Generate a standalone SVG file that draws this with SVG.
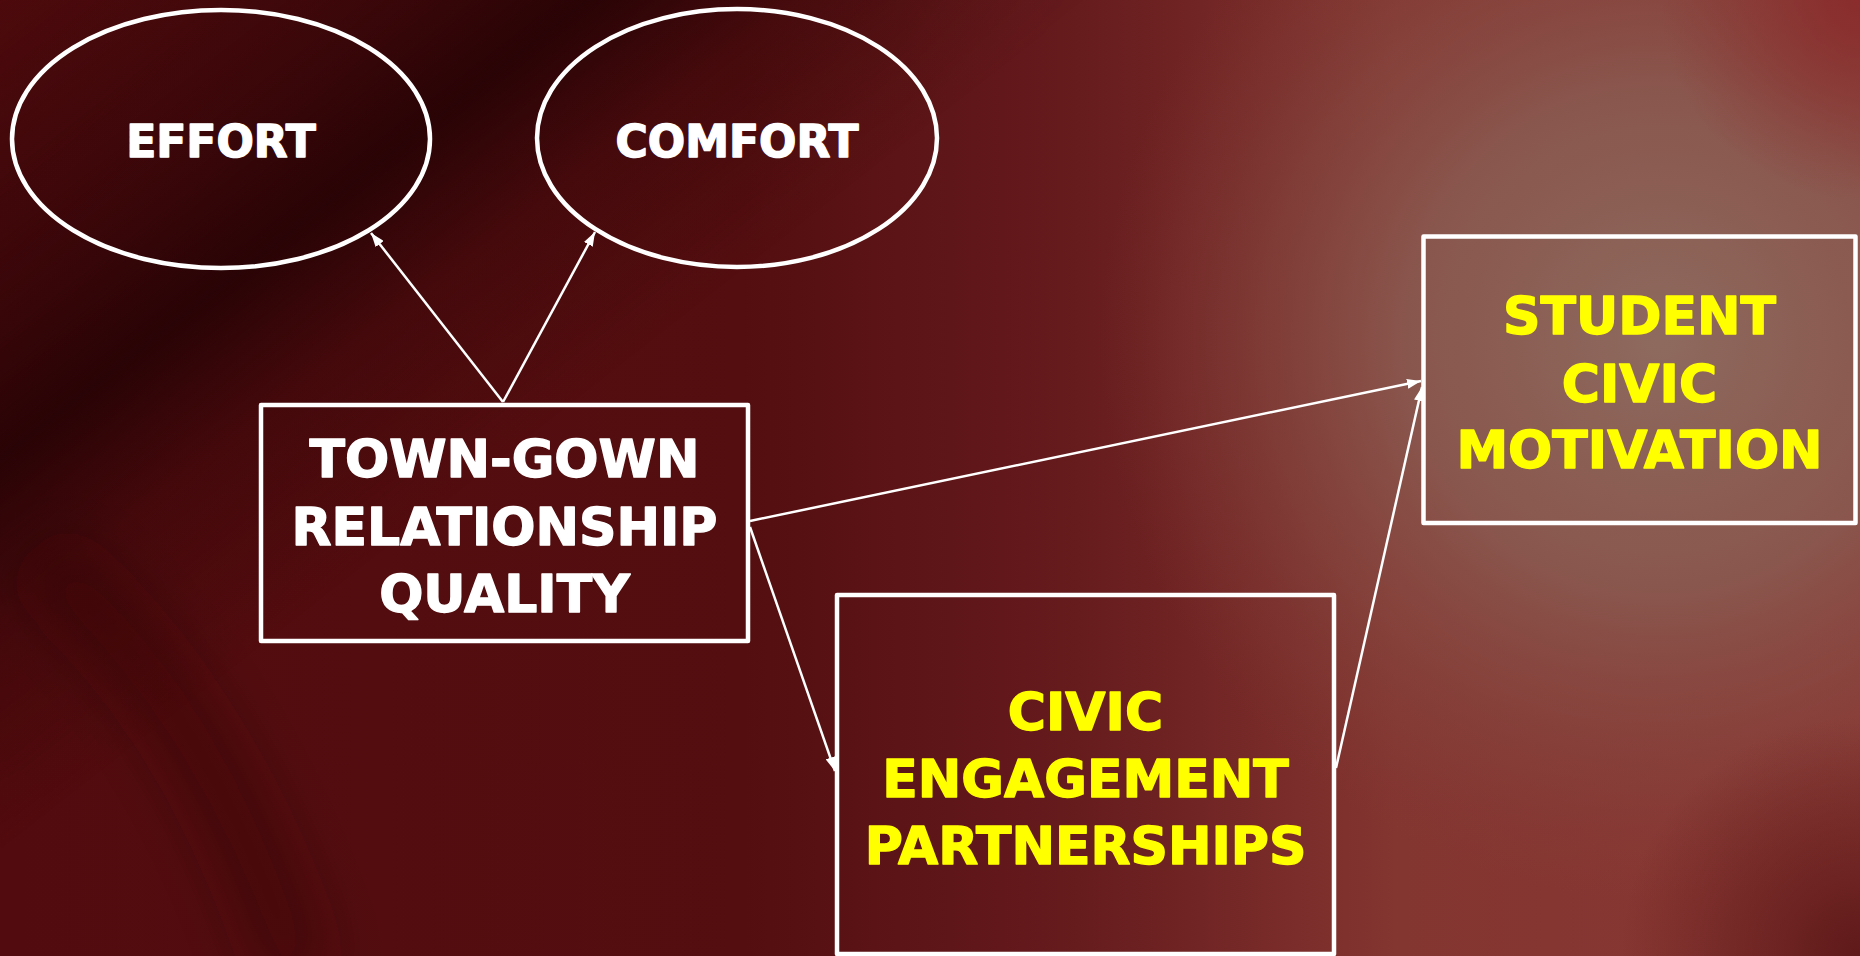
<svg xmlns="http://www.w3.org/2000/svg" width="1860" height="956" viewBox="0 0 1860 956">
  <defs>
    <linearGradient id="bgBase" x1="0" y1="0" x2="1860" y2="0" gradientUnits="userSpaceOnUse">
      <stop offset="0" stop-color="#520b0e"/>
      <stop offset="0.40" stop-color="#540e10"/>
      <stop offset="0.58" stop-color="#661b1d"/>
      <stop offset="0.75" stop-color="#833530"/>
      <stop offset="1" stop-color="#8a3834"/>
    </linearGradient>
    <radialGradient id="bgGlow" cx="1660" cy="340" r="560" gradientUnits="userSpaceOnUse">
      <stop offset="0" stop-color="#8e6a5e" stop-opacity="1"/>
      <stop offset="0.45" stop-color="#8a5c52" stop-opacity="0.85"/>
      <stop offset="1" stop-color="#86403a" stop-opacity="0"/>
    </radialGradient>
    <radialGradient id="bgTopRight" cx="1860" cy="0" r="200" gradientUnits="userSpaceOnUse">
      <stop offset="0" stop-color="#8a2a2a" stop-opacity="0.9"/>
      <stop offset="1" stop-color="#8a2a2a" stop-opacity="0"/>
    </radialGradient>
    <radialGradient id="bgCorner" cx="1860" cy="956" r="240" gradientUnits="userSpaceOnUse">
      <stop offset="0" stop-color="#5a1616" stop-opacity="0.9"/>
      <stop offset="1" stop-color="#5a1616" stop-opacity="0"/>
    </radialGradient>
    <linearGradient id="bgBand" x1="30" y1="-100" x2="530" y2="540" gradientUnits="userSpaceOnUse">
      <stop offset="0" stop-color="#250305" stop-opacity="0"/>
      <stop offset="0.35" stop-color="#250305" stop-opacity="0.5"/>
      <stop offset="0.52" stop-color="#250305" stop-opacity="0.9"/>
      <stop offset="0.68" stop-color="#250305" stop-opacity="0.3"/>
      <stop offset="0.9" stop-color="#250305" stop-opacity="0"/>
    </linearGradient>
    <radialGradient id="bandFade" cx="300" cy="200" r="900" gradientUnits="userSpaceOnUse">
      <stop offset="0" stop-color="#fff"/>
      <stop offset="0.7" stop-color="#fff"/>
      <stop offset="1" stop-color="#000"/>
    </radialGradient>
    <mask id="bandMask">
      <rect x="0" y="0" width="1860" height="956" fill="url(#bandFade)"/>
    </mask>
    <filter id="soft" x="-50%" y="-50%" width="200%" height="200%">
      <feGaussianBlur stdDeviation="30"/>
    </filter>
    <marker id="arrow" viewBox="0 0 14 10" refX="14" refY="5" markerWidth="14" markerHeight="10" markerUnits="userSpaceOnUse" orient="auto">
      <path d="M0,0 L14,5 L0,10 Z" fill="#ffffff"/>
    </marker>
    <style>
      .node { fill: none; stroke: #ffffff; stroke-width: 4.5; stroke-linejoin: round; }
      .edge { fill: none; stroke: #ffffff; stroke-width: 2.5; marker-end: url(#arrow); }
      .lbl { font-family: "DejaVu Sans", Verdana, sans-serif; font-weight: bold; text-anchor: middle; stroke-width: 1.4; stroke-linejoin: round; }
      .white { fill: #ffffff; stroke: #ffffff; font-size: 52px; }
      .oval { fill: #ffffff; stroke: #ffffff; font-size: 44px; }
      .yellow { fill: #ffff00; stroke: #ffff00; font-size: 52px; }
    </style>
  </defs>

  <g id="background">
    <rect x="0" y="0" width="1860" height="956" fill="url(#bgBase)"/>
    <rect x="0" y="0" width="1860" height="956" fill="url(#bgGlow)"/>
    <rect x="0" y="0" width="1860" height="956" fill="url(#bgTopRight)"/>
    <rect x="0" y="0" width="1860" height="956" fill="url(#bgCorner)"/>
    <rect x="0" y="0" width="1860" height="956" fill="url(#bgBand)" mask="url(#bandMask)"/>
    <path d="M40,560 Q210,700 300,980" fill="none" stroke="#2a0406" stroke-opacity="0.35" stroke-width="70" filter="url(#soft)"/>
  </g>

  <g id="connectors">
    <path class="edge" d="M503,402 L371,233"/>
    <path class="edge" d="M503,402 L595,232"/>
    <path class="edge" d="M750,521 L1421,381"/>
    <path class="edge" d="M750,527 L835,771"/>
    <path class="edge" d="M1336,768 L1422,387"/>
  </g>

  <g id="effort">
    <ellipse class="node" cx="221" cy="139" rx="209" ry="129"/>
    <text class="lbl oval" x="221" y="157">EFFORT</text>
  </g>

  <g id="comfort">
    <ellipse class="node" cx="737" cy="138" rx="200" ry="129"/>
    <text class="lbl oval" x="737" y="157">COMFORT</text>
  </g>

  <g id="town-gown">
    <rect class="node" x="261" y="405" width="487" height="236"/>
    <text class="lbl white" x="504.5" y="477">TOWN-GOWN</text>
    <text class="lbl white" x="504.5" y="545">RELATIONSHIP</text>
    <text class="lbl white" x="504.5" y="612">QUALITY</text>
  </g>

  <g id="student-civic-motivation">
    <rect class="node" x="1423.5" y="236.5" width="432" height="286.5"/>
    <text class="lbl yellow" x="1639.5" y="334">STUDENT</text>
    <text class="lbl yellow" x="1639.5" y="402">CIVIC</text>
    <text class="lbl yellow" x="1639.5" y="468">MOTIVATION</text>
  </g>

  <g id="civic-engagement-partnerships">
    <rect class="node" x="837" y="595" width="497" height="359"/>
    <text class="lbl yellow" x="1085.5" y="730">CIVIC</text>
    <text class="lbl yellow" x="1085.5" y="797">ENGAGEMENT</text>
    <text class="lbl yellow" x="1085.5" y="864">PARTNERSHIPS</text>
  </g>
</svg>
